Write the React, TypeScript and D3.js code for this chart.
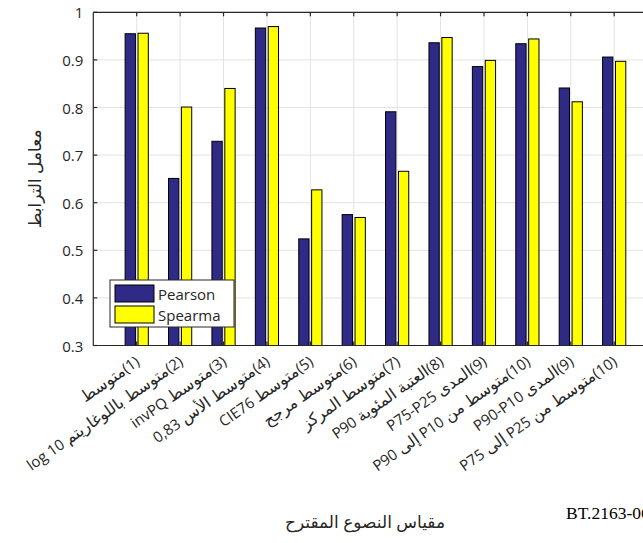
import React from 'react';
import * as d3 from 'd3';

const categories = [
  '(1)متوسط',
  '(2)متوسط باللوغاريتم log 10',
  '(3)متوسط invPQ',
  '(4)متوسط الأس 0,83',
  '(5)متوسط CIE76',
  '(6)متوسط مرجح',
  '(7)متوسط المركز',
  '(8)العتبة المئوية P90',
  '(9)المدى P75-P25',
  '(10)متوسط من P10 إلى P90',
  '(9)المدى P90-P10',
  '(10)متوسط من P25 إلى P75',
];
const pearson = [0.955, 0.651, 0.729, 0.967, 0.524, 0.575, 0.791, 0.936, 0.886, 0.934, 0.841, 0.906];
const spearman = [0.956, 0.801, 0.840, 0.970, 0.627, 0.569, 0.666, 0.947, 0.899, 0.944, 0.812, 0.897];
const seriesNames = ['Pearson', 'Spearma'];
const seriesColors = ['#2e2a86', '#ffff00'];
const yTicks = [0.3, 0.4, 0.5, 0.6, 0.7, 0.8, 0.9, 1];
const yTickLabels = ['0.3', '0.4', '0.5', '0.6', '0.7', '0.8', '0.9', '1'];
const yTitle = 'معامل الترابط';
const xTitle = 'مقياس النصوع المقترح';
const figId = 'BT.2163-06';

const W = 643;
const H = 543;
const left = 93.3;
const right = 657.6;
const top = 12.3;
const bottom = 345.5;
const axisColor = '#262626';
const font = '"Open Sans", "Noto Sans", "DejaVu Sans", sans-serif';

function labelRuns(s: string) {
  const parts = s.split(/([\u0600-\u06FF]+(?:\s+[\u0600-\u06FF]+)*)/).filter((p) => p.length > 0);
  return parts.map((p, k) => {
    const isAr = /[\u0600-\u06FF]/.test(p);
    let txt = p;
    if (k === 0) txt = '\u202B' + txt;
    if (k === parts.length - 1) txt = txt + '\u202C';
    return (
      <tspan key={k} fontSize={isAr ? 16 : 15}>
        {txt}
      </tspan>
    );
  });
}

export default function App() {
  const x = d3.scaleLinear().domain([0, categories.length + 1]).range([left, right]);
  const y = d3.scaleLinear().domain([0.3, 1]).range([bottom, top]);
  const inner = d3.scaleBand<string>().domain(seriesNames).range([-11.6, 11.6]).paddingInner(0.2);
  const series = [pearson, spearman];
  const idx = categories.map((_, i) => i + 1);

  return (
    <svg
      width={W}
      height={H}
      style={{ position: 'absolute', left: 0, top: 0, background: '#fff' }}
      fontFamily={font}
    >
      <rect x={0} y={0} width={W} height={H} fill="#fff" />
      {/* grid */}
      {yTicks.map((t) => (
        <line key={'gy' + t} x1={left} x2={right} y1={y(t)} y2={y(t)} stroke="#e3e3e3" strokeWidth={1} />
      ))}
      {idx.map((i) => (
        <line key={'gx' + i} x1={x(i)} x2={x(i)} y1={top} y2={bottom} stroke="#e3e3e3" strokeWidth={1} />
      ))}
      {/* bars */}
      {categories.map((c, i) =>
        series.map((vals, s) => (
          <rect
            key={c + s}
            x={x(i + 1) + (inner(seriesNames[s]) as number)}
            y={y(vals[i])}
            width={inner.bandwidth()}
            height={y(0.3) - y(vals[i])}
            fill={seriesColors[s]}
            stroke="#000"
            strokeWidth={1}
          />
        ))
      )}
      {/* axes box */}
      <line x1={left} x2={right} y1={top} y2={top} stroke={axisColor} strokeWidth={1.2} />
      <line x1={left} x2={right} y1={bottom} y2={bottom} stroke={axisColor} strokeWidth={1.2} />
      <line x1={left} x2={left} y1={top} y2={bottom} stroke={axisColor} strokeWidth={1.2} />
      <line x1={right} x2={right} y1={top} y2={bottom} stroke={axisColor} strokeWidth={1.2} />
      {/* ticks */}
      {idx.map((i) => (
        <g key={'tx' + i}>
          <line x1={x(i)} x2={x(i)} y1={top} y2={top + 4} stroke={axisColor} strokeWidth={1.2} />
          <line x1={x(i)} x2={x(i)} y1={bottom} y2={bottom - 4} stroke={axisColor} strokeWidth={1.2} />
        </g>
      ))}
      {yTicks.map((t) => (
        <line key={'ty' + t} x1={left} x2={left + 4} y1={y(t)} y2={y(t)} stroke={axisColor} strokeWidth={1.2} />
      ))}
      {/* y tick labels */}
      {yTicks.map((t, k) => (
        <text
          key={'yl' + t}
          x={left - 10}
          y={y(t)}
          textAnchor="end"
          dominantBaseline="central"
          fontSize={15}
          fill={axisColor}
        >
          {yTickLabels[k]}
        </text>
      ))}
      {/* x tick labels */}
      {categories.map((c, i) => (
        <text
          key={'xl' + i}
          transform={`translate(${x(i + 1) + 4},${364}) rotate(-35)`}
          textAnchor="end"
          fill={axisColor}
        >
          {labelRuns(c)}
        </text>
      ))}
      {/* y title */}
      <text
        transform={`translate(34,${(top + bottom) / 2}) rotate(-90)`}
        textAnchor="middle"
        dominantBaseline="central"
        fontSize={17}
        fill={axisColor}
      >
        {yTitle}
      </text>
      {/* x title */}
      <text x={365} y={528} textAnchor="middle" fontSize={17} fill={axisColor}>
        {xTitle}
      </text>
      <text x={566} y={519} fontSize={17.5} fontFamily='"Liberation Serif", "Times New Roman", serif' fill="#000">
        {figId}
      </text>
      {/* legend */}
      <g>
        <rect x={110} y={280} width={124} height={47} fill="#fff" stroke={axisColor} strokeWidth={1} />
        {seriesNames.map((n, s) => (
          <g key={n}>
            <rect x={115} y={285 + s * 21} width={39} height={17} fill={seriesColors[s]} stroke="#000" strokeWidth={1} />
            <text x={158} y={293.5 + s * 21} dominantBaseline="central" fontSize={15} fill={axisColor}>
              {n}
            </text>
          </g>
        ))}
      </g>
    </svg>
  );
}
